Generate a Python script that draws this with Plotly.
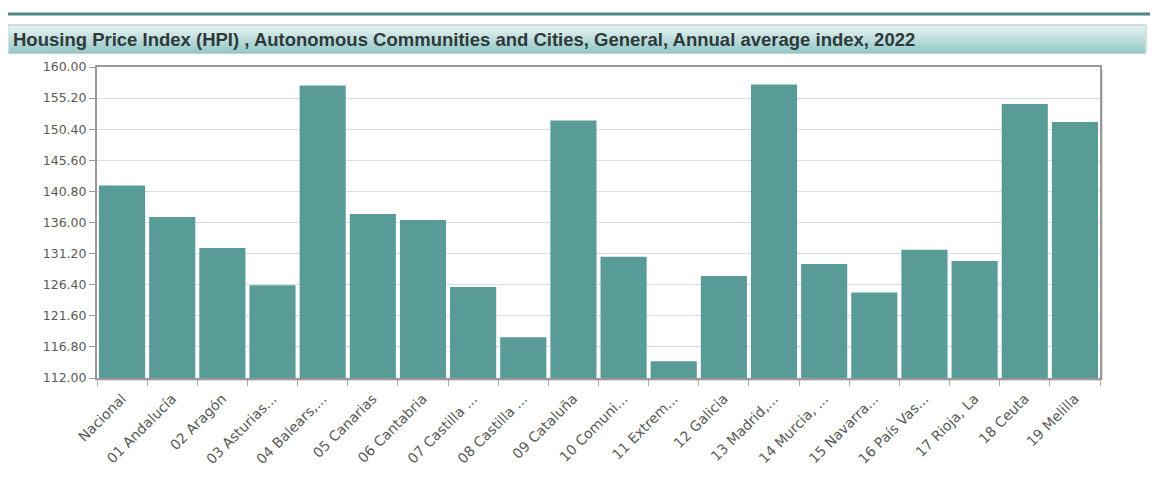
import plotly.graph_objects as go

categories = ["Nacional", "01 Andalucía", "02 Aragón", "03 Asturias...", "04 Balears,...",
              "05 Canarias", "06 Cantabria", "07 Castilla ...", "08 Castilla ...", "09 Cataluña",
              "10 Comuni...", "11 Extrem...", "12 Galicia", "13 Madrid,...", "14 Murcia, ...",
              "15 Navarra...", "16 País Vas...", "17 Rioja, La", "18 Ceuta", "19 Melilla"]
values = [141.7, 136.85, 132.05, 126.3, 157.15,
          137.3, 136.4, 126.05, 118.3, 151.75,
          130.7, 114.6, 127.75, 157.3, 129.6,
          125.2, 131.8, 130.05, 154.3, 151.5]
tick_vals = [112.0, 116.8, 121.6, 126.4, 131.2, 136.0, 140.8, 145.6, 150.4, 155.2, 160.0]
tick_text = ["112.00", "116.80", "121.60", "126.40", "131.20", "136.00",
             "140.80", "145.60", "150.40", "155.20", "160.00"]
title_text = "Housing Price Index (HPI) , Autonomous Communities and Cities, General, Annual average index, 2022"

OFF = 8  # page body margin
W, H = 1160 - OFF, 502 - OFF
L, R, T, B = 97 - OFF, 1100 - OFF, 67 - OFF, 378 - OFF


def px(x):
    return (x - OFF - L) / (R - L)


def py(y):
    return (B - (y - OFF)) / (B - T)


fig = go.Figure()
fig.add_trace(go.Bar(x=categories, y=values, marker=dict(color="#589b97", line=dict(width=0)),
                     hoverinfo="x+y"))

shapes = []
# top dark rule
shapes.append(dict(type="line", xref="paper", yref="paper", x0=px(8), x1=px(1150), y0=py(14), y1=py(14),
                   line=dict(color="#4d8580", width=3)))
# title gradient box
x0b, x1b, y0b, y1b = 8, 1146, 25, 53
n = 14
c0 = (232, 243, 243)
c1 = (150, 201, 200)
for i in range(n):
    t = i / (n - 1)
    col = "rgb(%d,%d,%d)" % tuple(int(c0[k] + (c1[k] - c0[k]) * t) for k in range(3))
    ya = y0b + (y1b - y0b) * i / n
    yb = y0b + (y1b - y0b) * (i + 1) / n
    shapes.append(dict(type="rect", xref="paper", yref="paper", x0=px(x0b + 1), x1=px(x1b - 1),
                       y0=py(ya), y1=py(yb + 0.5), line=dict(width=0), fillcolor=col, layer="below"))
shapes.append(dict(type="rect", xref="paper", yref="paper", x0=px(x0b), x1=px(x1b), y0=py(y0b), y1=py(y1b),
                   line=dict(color="#9fc3c2", width=1), fillcolor="rgba(0,0,0,0)"))
# plot shadow (right and bottom)
shapes.append(dict(type="line", xref="paper", yref="paper", x0=px(1102), x1=px(1102), y0=py(70), y1=py(380),
                   line=dict(color="#dddddd", width=2), layer="below"))
shapes.append(dict(type="line", xref="paper", yref="paper", x0=px(99), x1=px(1102), y0=py(380), y1=py(380),
                   line=dict(color="#dddddd", width=2), layer="below"))

fig.add_annotation(text="<b>" + title_text + "</b>", xref="paper", yref="paper",
                   x=px(11), y=py(39.5), xanchor="left", yanchor="middle", showarrow=False,
                   font=dict(family="Liberation Sans, Arial", size=18.5, color="#2f3a3a"))

fig.update_layout(
    width=W, height=H, autosize=False,
    margin=dict(l=L, r=W - R, t=T, b=H - B, pad=0),
    paper_bgcolor="white", plot_bgcolor="white",
    bargap=0.08, showlegend=False, shapes=shapes,
    font=dict(family="DejaVu Sans", size=12, color="#666666"),
)
fig.update_yaxes(range=[112, 160], tickvals=tick_vals, ticktext=tick_text,
                 showgrid=True, gridcolor="#dcdcdc", gridwidth=1,
                 showline=True, linecolor="#999999", linewidth=2, mirror=True,
                 ticks="outside", ticklen=6, tickcolor="#999999",
                 tickfont=dict(family="DejaVu Sans", size=12.5, color="#5a5a5a"), zeroline=False)
fig.update_xaxes(tickangle=-45, showline=True, linecolor="#999999", linewidth=2, mirror=True,
                 ticks="outside", ticklen=6, tickcolor="#aaaaaa", tickson="boundaries",
                 ticklabelstandoff=5,
                 tickfont=dict(family="DejaVu Sans", size=14, color="#5a5a5a"), showgrid=False)

fig.write_html("out.html")
